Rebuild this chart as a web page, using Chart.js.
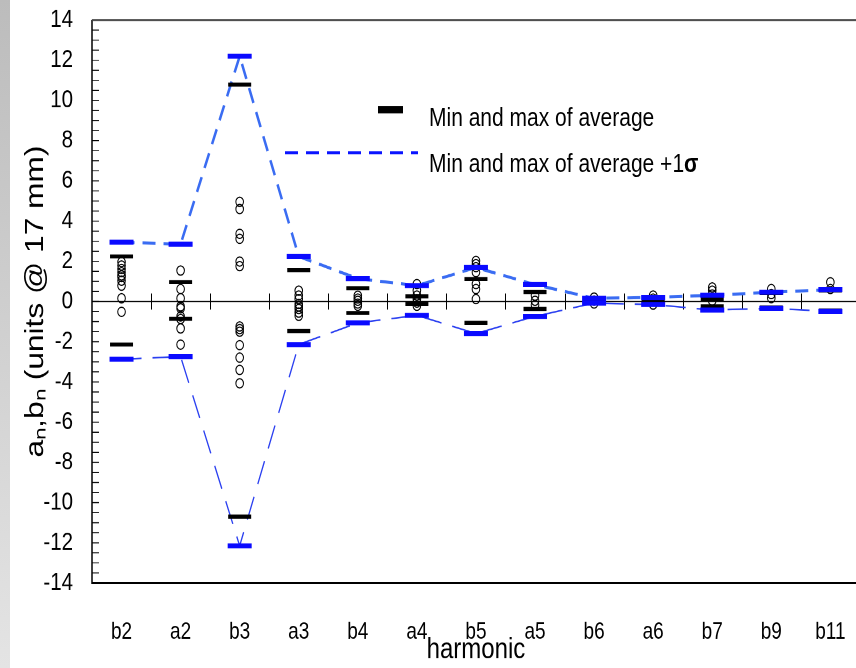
<!DOCTYPE html>
<html>
<head>
<meta charset="utf-8">
<script src="https://cdn.jsdelivr.net/npm/chart.js@4"></script>
<style>
  html, body { margin: 0; padding: 0; background: #fff; overflow: hidden; }
  #page { position: relative; width: 856px; height: 668px; overflow: hidden; }
  #band { position: absolute; left: 0; top: 0; width: 10px; height: 668px;
          background: linear-gradient(#bcbcbc, #e4e4e4); }
  /* the original figure is stretched vertically, so the whole drawing is too */
  #wrap { position: absolute; left: 0; top: 0; width: 876px; height: 548px;
          transform: scaleY(1.21898); transform-origin: 0 0; }
  canvas { position: absolute; left: 0; top: 0; }
  .lg { position: absolute; left: 429px; font-family: 'Liberation Sans', Arial, sans-serif;
        font-size: 21px; line-height: 21px; color: #000; white-space: nowrap; }
</style>
</head>
<body>
<div id="page">
  <div id="band"></div>
  <div id="wrap">
    <canvas id="harmChart" width="876" height="548"></canvas>
    <div style="position:absolute;left:378px;top:87px;width:25px;height:5.7px;background:#000;"></div>
    <svg style="position:absolute;left:280px;top:120px;" width="140" height="10">
      <line x1="5" y1="5.3" x2="138" y2="5.3" stroke="#0a14ff" stroke-width="2.5" stroke-dasharray="13 8"/>
    </svg>
    <div class="lg" style="top:84.7px;">Min and max of average</div>
    <div class="lg" style="top:123px;">Min and max of average +1<b>σ</b></div>
  </div>
</div>
<script>
const categories = ['b2', 'a2', 'b3', 'a3', 'b4', 'a4', 'b5', 'a5', 'b6', 'a6', 'b7', 'b9', 'b11'];

// average +/- 1 sigma (blue bars and dashed lines)
const blueUpper = [2.95, 2.85, 12.2, 2.24, 1.14, 0.79, 1.69, 0.84, 0.16, 0.2, 0.31, 0.46, 0.59];
const blueLower = [-2.87, -2.74, -12.15, -2.14, -1.06, -0.69, -1.59, -0.74, -0.08, -0.15, -0.42, -0.34, -0.49];

// min and max of average (black bars)
const blackUpper = [2.24, 0.97, 10.79, 1.56, 0.66, 0.26, 1.12, 0.47, 0.1, 0.02, 0.1, 0.42, 0.55];
const blackLower = [-2.14, -0.86, -10.7, -1.47, -0.57, -0.12, -1.06, -0.37, -0.05, -0.05, -0.24, -0.3, -0.45];

// individual measurements (open circles), one list per harmonic
const samples = [
  [1.96, 1.79, 1.62, 1.46, 1.3, 1.21, 1.04, 0.79, 0.16, -0.51],
  [1.54, 0.62, 0.16, -0.24, -0.34, -0.74, -0.87, -1.34, -2.14],
  [4.96, 4.6, 3.37, 3.12, 1.99, 1.76, -1.24, -1.37, -1.5, -2.17, -2.79, -3.4, -4.07],
  [0.54, 0.3, 0.12, -0.12, -0.25, -0.37, -0.55, -0.71],
  [0.29, 0.15, 0.04, -0.1, -0.21],
  [0.87, 0.54, 0.3, 0.12, -0.05, -0.21],
  [2.02, 1.86, 1.71, 1.46, 0.87, 0.62, 0.12],
  [0.29, 0.04, -0.17],
  [0.2, 0.05, -0.1],
  [0.3, 0.15, -0.15],
  [0.7, 0.54, 0.35, 0.04],
  [0.62, 0.37, 0.17],
  [0.96, 0.62]
];

const samplePoints = samples.flatMap((vals, i) => vals.map(v => ({x: categories[i], y: v})));

const sans = "'Liberation Sans', Arial, sans-serif";
const k = 1.21898; // vertical stretch

const frame = {
  id: 'frame',
  beforeDatasetsDraw(chart) {
    const {ctx, chartArea: a, scales: {x, y}} = chart;
    ctx.save();
    const y0 = y.getPixelForValue(0);
    ctx.strokeStyle = '#000';
    ctx.lineWidth = 1;
    ctx.beginPath();
    ctx.moveTo(a.left, y0);
    ctx.lineTo(a.right, y0);
    // small ticks between harmonics on the zero line
    for (let i = 0; i < categories.length - 1; i++) {
      const xb = Math.round((x.getPixelForValue(i) + x.getPixelForValue(i + 1)) / 2) + 0.5;
      ctx.moveTo(xb, y0 - 8 / k);
      ctx.lineTo(xb, y0 + 8 / k);
    }
    ctx.stroke();
    // inner ticks on the y axis
    ctx.lineWidth = 1 / k;
    ctx.beginPath();
    y.ticks.forEach((t, i) => {
      const py = y.getPixelForTick(i);
      ctx.moveTo(a.left, py);
      ctx.lineTo(a.left + 7, py);
    });
    ctx.stroke();
    // frame
    ctx.lineWidth = 1.5;
    ctx.beginPath();
    ctx.moveTo(a.left, a.top);
    ctx.lineTo(a.left, a.bottom);
    ctx.lineTo(a.right, a.bottom);
    ctx.stroke();
    ctx.strokeStyle = '#444';
    ctx.lineWidth = 2 / k;
    ctx.beginPath();
    ctx.moveTo(a.left, a.top);
    ctx.lineTo(a.right, a.top);
    ctx.stroke();
    ctx.restore();
  }
};

new Chart(document.getElementById('harmChart').getContext('2d'), {
  type: 'line',
  data: {
    labels: categories,
    datasets: [
      {
        label: 'measurements',
        data: samplePoints,
        showLine: false,
        pointStyle: 'circle',
        pointRadius: 3.8,
        borderWidth: 1,
        borderColor: '#000',
        backgroundColor: 'rgba(0,0,0,0)',
        order: 5
      },
      {
        label: 'upper +1 sigma line',
        data: blueUpper,
        borderColor: '#3a6cf2',
        borderWidth: 2.5,
        borderDash: [13, 8],
        pointRadius: 0,
        fill: false,
        order: 4
      },
      {
        label: 'lower -1 sigma line',
        data: blueLower,
        borderColor: '#2a3ff0',
        borderWidth: 1.3,
        borderDash: [20, 11],
        pointRadius: 0,
        fill: false,
        order: 4
      },
      {
        label: 'max of average',
        data: blackUpper,
        showLine: false,
        pointStyle: 'line',
        pointRadius: 11.5,
        borderWidth: 3.3,
        borderColor: '#000',
        order: 3
      },
      {
        label: 'min of average',
        data: blackLower,
        showLine: false,
        pointStyle: 'line',
        pointRadius: 11.5,
        borderWidth: 3.3,
        borderColor: '#000',
        order: 3
      },
      {
        label: 'max +1 sigma',
        data: blueUpper,
        showLine: false,
        pointStyle: 'line',
        pointRadius: 12,
        borderWidth: 4.1,
        borderColor: '#0a0aff',
        order: 1
      },
      {
        label: 'min -1 sigma',
        data: blueLower,
        showLine: false,
        pointStyle: 'line',
        pointRadius: 12,
        borderWidth: 4.1,
        borderColor: '#0a0aff',
        order: 1
      }
    ]
  },
  options: {
    responsive: false,
    animation: false,
    devicePixelRatio: 2,
    layout: { padding: { top: 20 / k, right: 3, left: 0, bottom: 0 } },
    plugins: { legend: { display: false }, tooltip: { enabled: false } },
    scales: {
      x: {
        type: 'category',
        offset: true,
        grid: { display: false, drawTicks: false },
        border: { display: false },
        ticks: { color: '#000', padding: 29, font: { family: sans, size: 19 } },
        title: {
          display: true, text: 'harmonic', color: '#000',
          padding: { top: 0, bottom: 0 },
          font: { family: sans, size: 24 }
        },
        afterFit(scale) { scale.height = 85 / k; }
      },
      y: {
        min: -14,
        max: 14,
        grid: { display: false, drawTicks: false },
        border: { display: false },
        ticks: {
          stepSize: 0.5,
          autoSkip: false,
          padding: 19,
          color: '#000',
          font: { family: sans, size: 20.5 },
          callback: v => (Math.abs(v % 2) < 1e-9 ? String(v) : '')
        },
        title: {
          display: true, text: 'aₙ,bₙ (units @ 17 mm)', color: '#000',
          padding: { top: 20, bottom: 0 },
          font: { family: sans, size: 26 }
        },
        afterFit(scale) { scale.width = 92; scale.paddingTop = 0; scale.paddingBottom = 0; }
      }
    }
  },
  plugins: [frame]
});
</script>
</body>
</html>
